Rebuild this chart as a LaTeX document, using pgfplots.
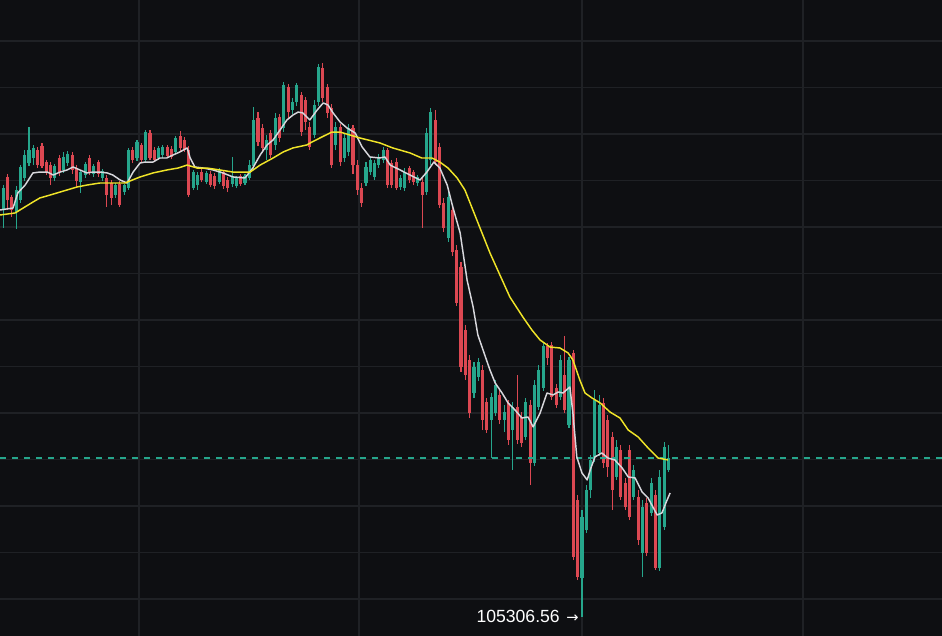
\documentclass[border=0pt]{standalone}
\usepackage{pgfplots}
\usepackage{pgfplotstable}
\pgfplotsset{compat=1.18}
\usepackage{fontspec}
\setmainfont{Liberation Sans}
\newfontfamily\dejavu{DejaVu Sans}

\definecolor{bgcol}{RGB}{14,15,18}
\definecolor{gridcol}{RGB}{31,33,37}
\definecolor{upcol}{RGB}{38,166,140}
\definecolor{downcol}{RGB}{220,72,82}
\definecolor{mafast}{RGB}{215,215,220}
\definecolor{maslow}{RGB}{240,228,40}

% i = candle number, o h l c = open high low close
\pgfplotstableread{
i o h l c
0 109683 109951 109489 109919
1 110038 110070 109683 109790
2 109823 109844 109608 109683
3 109661 109940 109479 109898
4 109790 110166 109758 110145
5 110027 110328 109994 110274
6 110188 110576 110155 110328
7 110242 110382 110166 110350
8 110328 110361 110134 110166
9 110371 110404 110134 110155
10 110198 110220 110059 110091
11 110166 110198 109951 110027
12 110027 110177 109994 110155
13 110242 110274 110048 110091
14 110113 110306 110081 110253
15 110188 110317 110155 110285
16 110274 110306 110070 110113
17 110134 110166 109930 109994
18 109983 110113 109866 110091
19 110059 110198 110027 110177
20 110242 110274 110059 110091
21 110070 110177 110038 110155
22 110198 110220 110038 110070
23 110027 110123 109994 110102
24 110027 110059 109715 109844
25 109973 110005 109736 109812
26 109844 109973 109812 109951
27 109962 109994 109715 109736
28 109876 109962 109844 109951
29 109919 110350 109898 110328
30 110328 110361 110188 110220
31 110242 110436 110209 110414
32 110382 110404 110188 110220
33 110220 110543 110188 110521
34 110511 110543 110220 110242
35 110328 110361 110198 110220
36 110242 110371 110220 110350
37 110274 110382 110242 110361
38 110361 110382 110242 110263
39 110339 110371 110231 110253
40 110306 110478 110285 110457
41 110478 110532 110306 110350
42 110436 110468 110306 110328
43 110328 110371 109823 109844
44 109919 110113 109898 110091
45 109951 110091 109898 110059
46 110091 110123 109983 110005
47 109983 110102 109962 110081
48 110070 110102 109930 109951
49 110048 110081 109908 109940
50 109983 110134 109962 110113
51 110091 110113 109908 109940
52 110005 110038 109876 109919
53 109962 110253 109930 110048
54 109940 110048 109919 110027
55 110048 110070 109940 109962
56 109973 110070 109951 110048
57 110027 110220 110005 110166
58 110155 110791 110113 110651
59 110672 110736 110371 110414
60 110565 110608 110306 110350
61 110328 110489 110220 110436
62 110511 110543 110242 110274
63 110382 110726 110328 110672
64 110683 110715 110414 110457
65 110565 111059 110521 111027
66 111006 111038 110672 110736
67 110758 110887 110715 110844
68 110844 111049 110801 111027
69 110919 110951 110478 110521
70 110866 110898 110543 110629
71 110576 110629 110328 110361
72 110489 110866 110457 110812
73 110844 111253 110801 111221
74 111210 111264 110844 110887
75 111006 111038 110672 110726
76 110780 110823 110134 110166
77 110382 110629 110328 110576
78 110576 110608 110155 110198
79 110242 110511 110198 110457
80 110306 110608 110263 110565
81 110565 110597 110070 110166
82 110166 110220 109844 109898
83 109919 109973 109715 109758
84 109973 110198 109940 110145
85 110091 110253 110059 110220
86 110038 110220 110005 110188
87 110166 110285 110134 110253
88 110220 110361 110188 110328
89 110328 110350 109919 109951
90 110188 110220 109919 109951
91 110198 110242 109898 109919
92 109930 110059 109898 110027
93 109919 110134 109887 110091
94 110134 110155 109973 110005
95 110091 110113 109951 109983
96 109973 110059 109940 110038
97 109983 110027 109489 109844
98 109876 110565 109844 110511
99 110220 110780 110166 110736
100 110651 110758 110166 110198
101 110361 110404 109704 109736
102 109758 109812 109446 109489
103 109382 109898 109339 109823
104 109683 109736 109188 109231
105 109253 109307 108650 108683
106 109070 109124 107940 107995
107 108393 108447 107855 107908
108 108070 108123 107446 107500
109 107715 108048 107662 107995
110 107887 108091 107844 108048
111 107962 108016 107317 107425
112 107618 107662 107285 107317
113 107425 107715 107016 107672
114 107500 107855 107468 107801
115 107694 107747 107382 107425
116 107425 107586 107296 107510
117 107608 107640 107156 107210
118 107317 107618 106887 107565
119 107565 107908 107167 107210
120 107457 107510 107134 107178
121 107242 107662 107210 107618
122 107586 107640 106726 106962
123 106962 107855 106930 107801
124 107565 108016 107532 107962
125 107769 108253 107737 108220
126 108220 108253 108016 108091
127 108231 108264 107640 107672
128 107769 107812 107554 107586
129 107672 108123 107640 108070
130 107908 108328 107500 107532
131 107371 108102 107339 108070
132 108145 108177 105919 105952
133 106564 106618 105704 105736
134 105726 106457 105306.56 106382
135 106242 106726 106210 106672
136 106672 107048 106586 106995
137 107027 107747 106973 107640
138 107070 107694 107038 107586
139 107608 107662 106909 106962
140 107425 107478 106812 106919
141 107242 107296 106457 106672
142 106812 107210 106780 107134
143 107102 107156 106564 106597
144 106748 106801 106457 106489
145 107102 107156 106349 106382
146 106597 106941 106564 106887
147 106597 106672 106080 106134
148 105995 106564 105736 106489
149 106532 106586 105962 105995
150 106425 106801 106392 106748
151 106618 106672 105812 105833
152 105833 106887 105801 106812
153 106274 107188 106242 107134
154 106887 107156 106865 107016
}\candles

\pgfplotsset{
  candle/.style n args={2}{draw=none, mark=none, forget plot,
    error bars/.cd, y dir=plus, y explicit, error mark=none,
    error bar style={draw=#1, line width=#2, solid}},
}

\begin{document}
\begin{tikzpicture}
\begin{axis}[
  name=ax,
  width=706.5pt, height=477pt, scale only axis,
  xmin=-0.72, xmax=217.34,
  ymin=105102, ymax=111941,
  axis background/.style={fill=bgcol},
  axis line style={draw=none},
  xtick={31.46,82.38,134,185.16},
  ytick={105500,106000,106500,107000,107500,108000,108500,109000,109500,110000,110500,111000,111500},
  xticklabels={}, yticklabels={},
  scaled ticks=false,
  major tick length=0pt,
  grid=major,
  major grid style={draw=gridcol, line width=0.8pt},
  unbounded coords=discard,
]
% wicks
\addplot[candle={upcol}{0.8pt}]
  table[x=i, y expr={\thisrow{c}>=\thisrow{o} ? \thisrow{l} : nan},
        y error expr={\thisrow{h}-\thisrow{l}}] {\candles};
\addplot[candle={downcol}{0.8pt}]
  table[x=i, y expr={\thisrow{c}<\thisrow{o} ? \thisrow{l} : nan},
        y error expr={\thisrow{h}-\thisrow{l}}] {\candles};
% bodies
\addplot[candle={upcol}{2.3pt}]
  table[x=i, y expr={\thisrow{c}>=\thisrow{o} ? \thisrow{o} : nan},
        y error expr={\thisrow{c}-\thisrow{o}}] {\candles};
\addplot[candle={downcol}{2.3pt}]
  table[x=i, y expr={\thisrow{c}<\thisrow{o} ? \thisrow{c} : nan},
        y error expr={\thisrow{o}-\thisrow{c}}] {\candles};

% last price line
\addplot[upcol, line width=1pt, dash pattern=on 4.5pt off 4.5pt]
  coordinates {(-0.72,107016) (217.34,107016)};

% short moving average
\addplot[mafast, line width=1.1pt, line join=round] coordinates {
(-0.7,109683) (2.3,109704) (3.4,109866) (5.1,109951) (6.9,110081) (8.5,110091)
(10.2,110091) (11.6,110059) (13.2,110091) (14.8,110113) (16.2,110145) (17.8,110113)
(19.4,110081) (20.8,110091) (22.4,110091) (24.1,110081) (25.4,110059) (27.1,110005)
(28.7,109973) (30.1,110091) (31.7,110188) (32.8,110198) (34.7,110198) (36.3,110242)
(37.9,110242) (39.3,110274) (40.9,110306) (42.6,110350) (43.3,110242) (44.4,110145)
(46.3,110134) (48.6,110113) (50.9,110081) (53.2,110038) (56.0,110027) (57.8,110134)
(59.5,110274) (61.1,110382) (62.5,110436) (64.1,110543) (65.7,110651) (67.1,110704)
(68.3,110736) (69.4,110726) (71.0,110651) (72.7,110758) (74.1,110834) (75.2,110812)
(76.4,110726) (78.0,110629) (79.6,110565) (81.5,110511) (83.1,110361) (84.9,110253)
(87.2,110242) (88.4,110253) (89.6,110166) (91.9,110113) (94.2,110059) (96.5,110005)
(98.1,110091) (99.7,110198) (101.1,110134) (102.8,109951) (104.1,109715) (105.8,109436)
(107.4,108930) (108.8,108640) (109.9,108339) (111.5,108123) (112.7,107962) (113.9,107823)
(115.5,107715) (116.9,107608) (118.5,107532) (120.1,107446) (121.5,107457) (122.7,107350)
(124.3,107500) (125.9,107715) (127.3,107694) (128.5,107726) (129.6,107715) (131.2,107780)
(131.9,107500) (132.8,107027) (134.0,106855) (135.2,106780) (135.9,106887) (137.0,107027)
(138.6,107070) (140.0,107016) (141.6,106995) (143.3,106909) (144.7,106812) (146.3,106801)
(147.9,106651) (149.3,106586) (151.4,106403) (152.5,106425) (153.7,106564) (154.4,106640)
};

% long moving average
\addplot[maslow, line width=1.1pt, line join=round] coordinates {
(-0.7,109629) (2.8,109651) (3.9,109683) (6.9,109768) (8.5,109812) (10.9,109844)
(13.2,109876) (14.8,109898) (17.1,109930) (19.4,109951) (22.4,109973) (25.4,109973)
(28.2,109973) (31.7,110038) (34.7,110081) (37.9,110113) (40.5,110134) (42.6,110166)
(44.9,110134) (47.2,110134) (50.2,110113) (53.2,110091) (57.2,110091) (59.5,110166)
(62.5,110242) (64.8,110306) (67.1,110350) (70.3,110382) (71.5,110414) (73.8,110468)
(76.1,110521) (78.0,110521) (80.3,110489) (82.6,110457) (87.2,110404) (90.2,110350)
(94.2,110296) (96.9,110242) (99.3,110242) (101.1,110198) (103.0,110134) (105.1,110027)
(106.9,109898) (108.1,109758) (110.4,109489) (112.7,109221) (115.0,108984) (117.3,108748)
(120.3,108533) (122.4,108393) (124.3,108285) (126.6,108209) (128.9,108199) (130.8,108145)
(131.9,108070) (133.5,107855) (134.7,107715) (136.3,107662) (138.2,107608) (140.5,107510)
(142.8,107446) (144.7,107317) (147.0,107242) (149.3,107124) (151.6,107016) (153.9,106995)
};

\node[anchor=east, text=white, inner sep=0pt, font=\fontsize{13.2}{15}\selectfont]
  at (axis cs:133.3,105317) {105306.56\hspace{5pt}{\dejavu\fontsize{11}{12}\selectfont →}};
\end{axis}
\pgfresetboundingbox
\path (ax.south west) rectangle (ax.north east);
\end{tikzpicture}
\end{document}
